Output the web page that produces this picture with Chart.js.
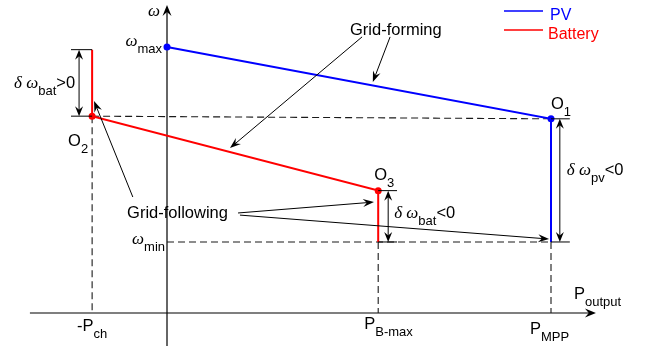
<!DOCTYPE html>
<html><head><meta charset="utf-8">
<script src="https://cdn.jsdelivr.net/npm/chart.js@4.4.1/dist/chart.umd.min.js"></script>
<style>html,body{margin:0;padding:0;background:#fff}canvas{display:block}</style>
</head><body>
<canvas id="c" width="648" height="346"></canvas>
<script>
// Characteristic values on the P–ω plane (arbitrary units)
const P_CH = -1.95, P_BMAX = 5.5, P_MPP = 10;
const W_MAX = 10, W_O1 = 7.3, W_O2 = 7.4, W_O3 = 4.6, W_MIN = 2.67, W_BAT_TOP = 9.9;

// Droop curves
const pvCurve = [[0, W_MAX], [P_MPP, W_O1], [P_MPP, W_MIN]];
const batteryCurve = [[P_CH, W_BAT_TOP], [P_CH, W_O2], [P_BMAX, W_O3], [P_BMAX, W_MIN]];

// Dashed reference lines
const guideLines = [
  [[P_CH, W_O2], [P_MPP, W_O1]],
  [[0, W_MIN], [P_MPP, W_MIN]],
  [[P_CH, W_O2], [P_CH, 0]],
  [[P_BMAX, W_MIN], [P_BMAX, 0]],
  [[P_MPP, W_MIN], [P_MPP, 0]]
];

// Visible window and axis extents
const X_RANGE = [-4.349, 12.526];
const Y_RANGE = [-1.241, 11.767];
const X_AXIS = [-3.57, 11.17];
const Y_AXIS = [-1.241, 11.58];

// Frequency deviation dimension arrows: x, from, to, tick start, tick end
const dimArrows = [
  {x: -2.29, from: W_BAT_TOP, to: W_O2, t0: -2.5, t1: P_CH},
  {x: 5.76, from: W_O3, to: W_MIN, t0: P_BMAX, t1: 5.99},
  {x: 10.23, from: W_O1, to: W_MIN, t0: P_MPP, t1: 10.49}
];

// Callout arrows: tail -> head
const calloutArrows = [
  [[5.08, 10.38], [1.64, 6.20]],
  [[5.81, 10.38], [5.36, 8.68]],
  [[-0.89, 4.36], [-1.90, 7.97]],
  [[1.85, 3.76], [5.39, 4.17]],
  [[1.90, 3.68], [9.95, 2.78]]
];

const FONT_M = '16.5px "Liberation Sans", Arial, sans-serif';
const FONT_S = '13px "Liberation Sans", Arial, sans-serif';
const FONT_G = 'italic 17px "Liberation Serif", "DejaVu Serif", serif';

// Text labels: anchor in data units + pixel offset
const labels = [
  {at: [0, Y_AXIS[1]], dx: -19, dy: 11, parts: [['ω', 'g']]},
  {at: [0, W_MAX], dx: -5, dy: -1, align: 'right', parts: [['ω', 'g'], ['max', 's']]},
  {at: [dimArrows[0].x, (W_BAT_TOP + W_O2) / 2], dx: -4, dy: 5, align: 'right', parts: [['δ ω', 'g'], ['bat', 's'], ['>0', 'm']]},
  {at: [P_CH, W_O2], dx: -24, dy: 30, parts: [['O', 'm'], ['2', 's']]},
  {at: [P_BMAX, W_O3], dx: -4, dy: -11, parts: [['O', 'm'], ['3', 's']]},
  {at: [P_MPP, W_O1], dx: 0, dy: -10, parts: [['O', 'm'], ['1', 's']]},
  {at: [dimArrows[1].x, (W_O3 + W_MIN) / 2], dx: 6, dy: 2, parts: [['δ ω', 'g'], ['bat', 's'], ['<0', 'm']]},
  {at: [dimArrows[2].x, (W_O1 + W_MIN) / 2], dx: 7, dy: -5, parts: [['δ ω', 'g'], ['pv', 's'], ['<0', 'm']]},
  {at: [0, W_MIN], dx: -2, dy: 2, align: 'right', parts: [['ω', 'g'], ['min', 's']]},
  {at: [X_AXIS[1], 0], dx: -22, dy: -14, parts: [['P', 'm'], ['output', 's']]},
  {at: [P_CH, 0], dx: 0, dy: 18, align: 'center', parts: [['-P', 'm'], ['ch', 's']]},
  {at: [P_BMAX, 0], dx: -14, dy: 16, parts: [['P', 'm'], ['B-max', 's']]},
  {at: [P_MPP, 0], dx: -21, dy: 21, parts: [['P', 'm'], ['MPP', 's']]},
  {at: [4.766, 10.45], dx: 0, dy: 0, parts: [['Grid-forming', 'm']]},
  {at: [-1.04, 3.57], dx: 0, dy: 0, parts: [['Grid-following', 'm']]}
];

const toXY = arr => arr.map(([x, y]) => ({x, y}));

function arrowHead(ctx, x1, y1, x2, y2, len, half) {
  const a = Math.atan2(y2 - y1, x2 - x1);
  const ux = Math.cos(a), uy = Math.sin(a), nx = -uy, ny = ux;
  ctx.beginPath();
  ctx.moveTo(x2, y2);
  ctx.lineTo(x2 - ux * len + nx * half, y2 - uy * len + ny * half);
  ctx.lineTo(x2 - ux * len * 0.65, y2 - uy * len * 0.65);
  ctx.lineTo(x2 - ux * len - nx * half, y2 - uy * len - ny * half);
  ctx.closePath();
  ctx.fill();
}

function arrow(ctx, x1, y1, x2, y2, len, half) {
  const a = Math.atan2(y2 - y1, x2 - x1);
  ctx.beginPath();
  ctx.moveTo(x1, y1);
  ctx.lineTo(x2 - Math.cos(a) * len * 0.6, y2 - Math.sin(a) * len * 0.6);
  ctx.stroke();
  arrowHead(ctx, x1, y1, x2, y2, len, half);
}

function fontOf(k) { return k === 's' ? FONT_S : k === 'g' ? FONT_G : FONT_M; }

function drawRich(ctx, x, y, parts, align) {
  let total = 0;
  parts.forEach(([t, k]) => { ctx.font = fontOf(k); total += ctx.measureText(t).width; });
  let cx = align === 'right' ? x - total : align === 'center' ? x - total / 2 : x;
  ctx.textAlign = 'left';
  ctx.textBaseline = 'alphabetic';
  parts.forEach(([t, k]) => {
    ctx.font = fontOf(k);
    ctx.fillText(t, cx, k === 's' ? y + 7 : y);
    cx += ctx.measureText(t).width;
  });
}

const axesPlugin = {
  id: 'axes',
  beforeDatasetsDraw(chart) {
    const {ctx, scales: {x, y}} = chart;
    const X = v => x.getPixelForValue(v), Y = v => y.getPixelForValue(v);
    ctx.save();
    ctx.strokeStyle = '#000';
    ctx.fillStyle = '#000';
    ctx.lineWidth = 1.2;
    arrow(ctx, X(X_AXIS[0]), Y(0), X(X_AXIS[1]), Y(0), 11, 4.5);
    arrow(ctx, X(0), Y(Y_AXIS[0]), X(0), Y(Y_AXIS[1]), 11, 4.5);
    ctx.restore();
  },
  afterDatasetsDraw(chart) {
    const {ctx, scales: {x, y}} = chart;
    const X = v => x.getPixelForValue(v), Y = v => y.getPixelForValue(v);
    ctx.save();
    ctx.strokeStyle = '#000';
    ctx.fillStyle = '#000';
    ctx.lineWidth = 1;
    // dimension arrows with end ticks
    dimArrows.forEach(d => {
      const px = X(d.x), y0 = Y(d.from), y1 = Y(d.to);
      ctx.beginPath();
      ctx.moveTo(X(d.t0), y0); ctx.lineTo(X(d.t1), y0);
      ctx.moveTo(X(d.t0), y1); ctx.lineTo(X(d.t1), y1);
      ctx.moveTo(px, y0 + 6); ctx.lineTo(px, y1 - 6);
      ctx.stroke();
      arrowHead(ctx, px, y1, px, y0, 10, 4);
      arrowHead(ctx, px, y0, px, y1, 10, 4);
    });
    // callouts
    calloutArrows.forEach(([t, h]) => arrow(ctx, X(t[0]), Y(t[1]), X(h[0]), Y(h[1]), 11, 4));
    // labels
    labels.forEach(l => drawRich(ctx, X(l.at[0]) + l.dx, Y(l.at[1]) + l.dy, l.parts, l.align));
    // legend
    const ca = chart.chartArea;
    const lx = ca.right - 144, ly = ca.top + 11;
    [['PV', '#0000ff'], ['Battery', '#ff0000']].forEach(([name, col], i) => {
      ctx.strokeStyle = col;
      ctx.fillStyle = col;
      ctx.lineWidth = 1.5;
      ctx.beginPath();
      ctx.moveTo(lx, ly + i * 19); ctx.lineTo(lx + 39, ly + i * 19);
      ctx.stroke();
      ctx.font = '16px "Liberation Sans", Arial, sans-serif';
      ctx.fillText(name, lx + 46 - i * 2, ly + 9 + i * 19);
    });
    ctx.restore();
  }
};

const datasets = [
  {
    label: 'PV', data: toXY(pvCurve), showLine: true, borderColor: '#0000ff', borderWidth: 2,
    pointRadius: [3.5, 3.5, 0], pointBackgroundColor: '#0000ff', pointBorderWidth: 0, order: 0
  },
  {
    label: 'Battery', data: toXY(batteryCurve), showLine: true, borderColor: '#ff0000', borderWidth: 2,
    pointRadius: [0, 3.5, 3.5, 0], pointBackgroundColor: '#ff0000', pointBorderWidth: 0, order: 0
  },
  ...guideLines.map((g, i) => ({
    label: 'guide' + i, data: toXY(g), showLine: true, borderColor: '#1a1a1a', borderWidth: 1.1,
    borderDash: [7, 4], pointRadius: 0, order: 1
  }))
];

new Chart(document.getElementById('c'), {
  type: 'scatter',
  data: {datasets},
  options: {
    responsive: false,
    animation: false,
    devicePixelRatio: 1,
    layout: {padding: 0, autoPadding: false},
    clip: false,
    plugins: {legend: {display: false}, tooltip: {enabled: false}},
    scales: {
      x: {type: 'linear', display: false, min: X_RANGE[0], max: X_RANGE[1]},
      y: {type: 'linear', display: false, min: Y_RANGE[0], max: Y_RANGE[1]}
    }
  },
  plugins: [axesPlugin]
});
</script>
</body></html>
